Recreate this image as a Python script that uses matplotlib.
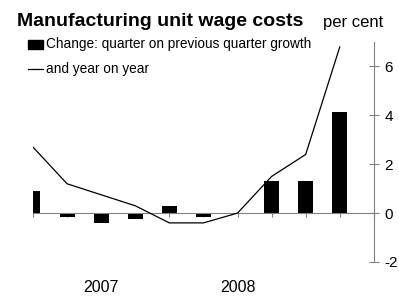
import numpy as np
import matplotlib
matplotlib.use('Agg')
import matplotlib.pyplot as plt

plt.rcParams['font.family'] = ['Liberation Sans', 'DejaVu Sans']

# quarterly data, 2006 Q4 .. 2009 Q1 (approx.)
qoq = [0.9, -0.15, -0.4, -0.25, 0.3, -0.15, 0.0, 1.33, 1.33, 4.15]
yoy = [2.7, 1.2, 0.75, 0.3, -0.4, -0.4, 0.0, 1.5, 2.4, 6.8]
years = ['2007', '2008']
year_pos = [2, 6]
yticks = [-2, 0, 2, 4, 6]

fig = plt.figure(figsize=(3.99, 2.96), dpi=100)
ax = fig.add_axes([0.0827, 0.1149, 0.8543, 0.7431])

x = np.arange(len(qoq))
ax.bar(x, qoq, width=0.44, color='black', zorder=2)
ax.plot(x, yoy, color='black', lw=0.9, zorder=3)

ax.set_xlim(0, 10)
ax.set_ylim(-2, 7)

grey = '#808080'
for s in ['left', 'top']:
    ax.spines[s].set_visible(False)
ax.spines['bottom'].set_position(('data', 0))
ax.spines['bottom'].set_color(grey)
ax.spines['right'].set_color(grey)

ax.set_xticks(np.arange(0, 11))
ax.set_xticklabels([])
ax.tick_params(axis='x', direction='out', length=3, color=grey, width=0.8)

ax.yaxis.tick_right()
ax.set_yticks(yticks)
ax.set_yticklabels([str(t) for t in yticks])
ax.tick_params(axis='y', direction='inout', length=7, color=grey, width=0.8,
               labelsize=11, pad=4)

for yr, p in zip(years, year_pos):
    ax.text(p, -3.03, yr, ha='center', va='center', fontsize=11.5, clip_on=False)

fig.text(17 / 399, 1 - 22 / 296, 'Manufacturing unit wage costs', fontsize=14,
         fontweight='bold', ha='left', va='center')
fig.text(323 / 399, 1 - 22 / 296, 'per cent', fontsize=12, ha='left', va='center')

# legend
fig.patches.append(plt.Rectangle((28 / 399, 1 - 49 / 296), 15 / 399, 9 / 296,
                                 transform=fig.transFigure, color='black'))
fig.text(46 / 399, 1 - 44 / 296, 'Change: quarter on previous quarter growth',
         fontsize=9.8, ha='left', va='center')
fig.lines.append(plt.Line2D([28 / 399, 43 / 399], [1 - 69 / 296, 1 - 69 / 296],
                            transform=fig.transFigure, color='black', lw=0.9))
fig.text(46 / 399, 1 - 69 / 296, 'and year on year', fontsize=9.8,
         ha='left', va='center')

fig.savefig('out.png', dpi=100)
